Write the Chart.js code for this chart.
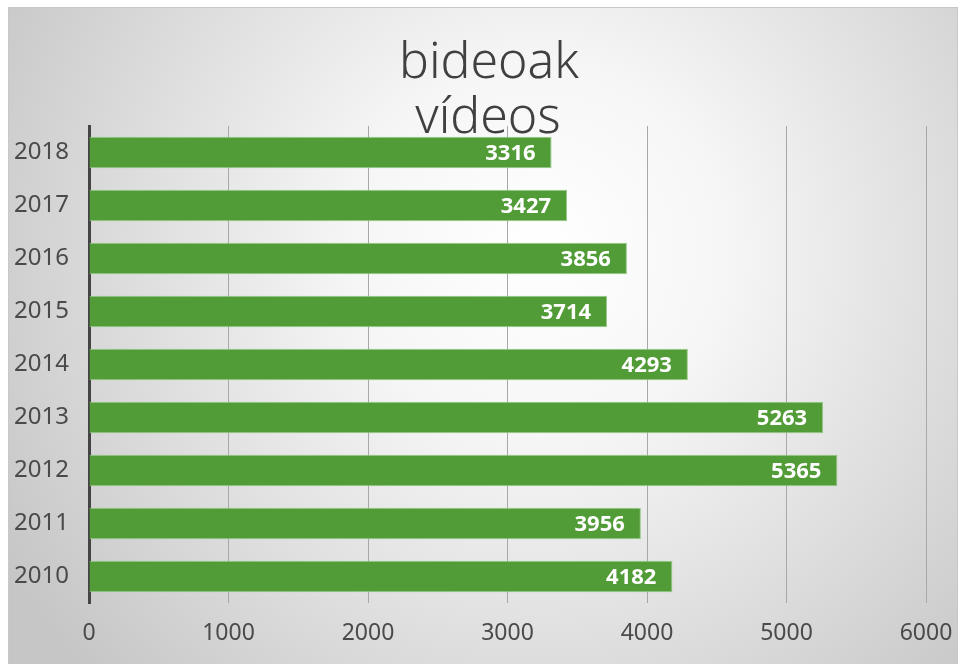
<!DOCTYPE html>
<html>
<head>
<meta charset="utf-8">
<script src="https://cdn.jsdelivr.net/npm/chart.js@4.4.1/dist/chart.umd.min.js"></script>
<style>
html,body{margin:0;padding:0;background:#fff;}
#wrap{width:961px;height:664px;position:relative;}
</style>
</head>
<body>
<div id="wrap"><canvas id="c" width="961" height="664"></canvas></div>
<script>
const titleLines = ['bideoak', 'vídeos'];
const years = ['2010','2011','2012','2013','2014','2015','2016','2017','2018'];
const videos = [4182, 3956, 5365, 5263, 4293, 3714, 3856, 3427, 3316];
const xTicks = [0, 1000, 2000, 3000, 4000, 5000, 6000];

const bgPlugin = {
  id: 'bg',
  beforeDraw(chart) {
    const ctx = chart.ctx;
    ctx.save();
    ctx.fillStyle = '#ffffff';
    ctx.fillRect(0, 0, chart.width, chart.height);
    const g = ctx.createRadialGradient(540, 250, 0, 540, 250, 620);
    g.addColorStop(0, '#ffffff');
    g.addColorStop(0.3, '#f6f6f6');
    g.addColorStop(1, '#c6c6c6');
    ctx.fillStyle = g;
    ctx.fillRect(8, 7, 950, 657);
    ctx.strokeStyle = '#c8c8c8';
    ctx.lineWidth = 1;
    ctx.strokeRect(8.5, 7.5, 949, 657);
    ctx.restore();
  }
};

const titlePlugin = {
  id: 'ttl',
  afterDraw(chart) {
    const ctx = chart.ctx;
    ctx.save();
    ctx.font = '300 50px "Noto Sans", sans-serif';
    ctx.fillStyle = '#404040';
    ctx.textAlign = 'center';
    ctx.textBaseline = 'alphabetic';
    ctx.fillText(titleLines[0], 489, 78);
    ctx.fillText(titleLines[1], 488, 133);
    ctx.restore();
  }
};

const labelPlugin = {
  id: 'lbl',
  afterDatasetsDraw(chart) {
    const ctx = chart.ctx;
    const meta = chart.getDatasetMeta(0);
    ctx.save();
    ctx.font = 'bold 22px "Open Sans", sans-serif';
    ctx.fillStyle = '#ffffff';
    ctx.textAlign = 'right';
    ctx.textBaseline = 'middle';
    meta.data.forEach((bar, i) => {
      ctx.fillText(String(videos[i]), bar.x - 16, bar.y + 1);
    });
    ctx.restore();
  }
};

new Chart(document.getElementById('c'), {
  type: 'bar',
  data: {
    labels: years,
    datasets: [{
      data: videos,
      backgroundColor: '#529c37',
      borderColor: '#93c985',
      borderWidth: 1,
      borderSkipped: 'start',
      categoryPercentage: 1,
      barPercentage: 0.59
    }]
  },
  plugins: [bgPlugin, labelPlugin, titlePlugin],
  options: {
    indexAxis: 'y',
    responsive: false,
    animation: false,
    devicePixelRatio: 1,
    layout: { padding: { top: 126, right: 35, bottom: 10, left: 0 } },
    plugins: { legend: { display: false }, tooltip: { enabled: false }, title: { display: false } },
    scales: {
      x: {
        min: 0, max: 6000,
        afterBuildTicks(scale) { scale.ticks = xTicks.map(v => ({ value: v })); },
        grid: { color: '#a8a8a8', lineWidth: 1, drawTicks: false },
        border: { display: false },
        ticks: { color: '#4a4a4a', font: { family: '"Noto Sans", sans-serif', size: 23 }, padding: 17, maxRotation: 0,
                 callback: (v) => String(v) },
        afterFit(scale) { scale.height = 51; scale.paddingRight = 0; scale.paddingLeft = 0; }
      },
      y: {
        reverse: true,
        grid: { display: false, drawTicks: false },
        border: { display: true, color: '#444444', width: 3 },
        ticks: { color: '#4a4a4a', font: { family: '"Noto Sans", sans-serif', size: 24 }, padding: 20 },
        afterFit(scale) { scale.width = 89; scale.paddingTop = 0; scale.paddingBottom = 0; }
      }
    }
  }
});
</script>
</body>
</html>
